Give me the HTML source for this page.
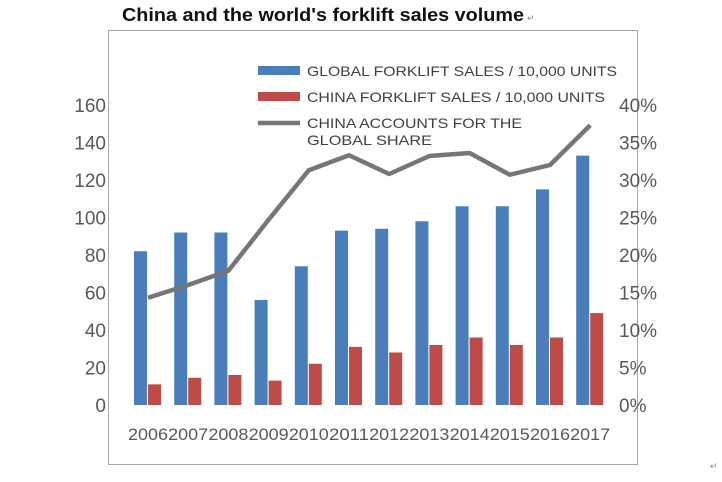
<!DOCTYPE html>
<html><head><meta charset="utf-8"><style>
body{margin:0;background:#fff;}
svg text{font-family:"Liberation Sans",Arial,sans-serif;}
</style></head><body>
<svg width="722" height="477" viewBox="0 0 722 477">
<text x="122" y="21" textLength="402" lengthAdjust="spacingAndGlyphs" font-size="18" font-weight="bold" fill="#111">China and the world's forklift sales volume</text>
<text x="527" y="21" font-size="9" fill="#888">↵</text>
<rect x="108.5" y="30.5" width="529" height="434" fill="none" stroke="#a6a6a6"/>
<text x="710" y="469" font-size="9" fill="#888">↵</text>
<g id="chart"></g>
</svg>
<script>
const categories=["2006","2007","2008","2009","2010","2011","2012","2013","2014","2015","2016","2017"];
const globalSales=[82,92,92,56,74,93,94,98,106,106,115,133];
const chinaSales=[11,14.5,16,13,22,31,28,32,36,32,36,49];
const chinaShare=[14.3,16,17.9,24.7,31.3,33.3,30.8,33.2,33.6,30.7,32,37.3];
const leftTicks=[0,20,40,60,80,100,120,140,160];
const rightTicks=[0,5,10,15,20,25,30,35,40];
const NS="http://www.w3.org/2000/svg";
const g=document.getElementById('chart');
const y0=405,yTop=105;
const yL=v=>y0-(v/160)*(y0-yTop);
const yR=v=>y0-(v/40)*(y0-yTop);
const xC=i=>148+i*40.2;
function mk(t,a,txt){const e=document.createElementNS(NS,t);for(const k in a)e.setAttribute(k,a[k]);if(txt!==undefined)e.textContent=txt;g.appendChild(e);return e;}
leftTicks.forEach(v=>{const e=mk('text',{x:106,y:yL(v)+7,'text-anchor':'end','font-size':19,fill:'#595959'},v);

});
rightTicks.forEach(v=>{const e=mk('text',{x:619,y:yR(v)+7,'font-size':19,fill:'#595959'},v+'%');

});
categories.forEach((c,i)=>{
const b=mk('rect',{x:xC(i)-14,y:yL(globalSales[i]),width:13,height:y0-yL(globalSales[i]),fill:'#4a7ebb'});


const r=mk('rect',{x:xC(i),y:yL(chinaSales[i]),width:13,height:y0-yL(chinaSales[i]),fill:'#be4b48'});


const t=mk('text',{x:xC(i)-20,y:440,'font-size':17,textLength:40,lengthAdjust:'spacingAndGlyphs',fill:'#595959'},c);


});
const pts=chinaShare.map((v,i)=>xC(i)+','+yR(v)).join(' ');
const ln=mk('polyline',{points:pts,fill:'none',stroke:'#767676','stroke-width':4.5,'stroke-linejoin':'round'});


const l1=mk('rect',{x:258,y:66,width:42,height:9,fill:'#4a7ebb'});


const t1=mk('text',{x:307,y:76,'font-size':14,textLength:310,lengthAdjust:'spacingAndGlyphs',fill:'#404040'},'GLOBAL FORKLIFT SALES / 10,000 UNITS');


const l2=mk('rect',{x:258,y:92,width:42,height:9,fill:'#be4b48'});


const t2=mk('text',{x:307,y:102,'font-size':14,textLength:298,lengthAdjust:'spacingAndGlyphs',fill:'#404040'},'CHINA FORKLIFT SALES / 10,000 UNITS');


const l3=mk('line',{x1:258,y1:123,x2:300,y2:123,stroke:'#767676','stroke-width':4.5});


const t3=mk('text',{x:307,y:128,'font-size':14,textLength:215,lengthAdjust:'spacingAndGlyphs',fill:'#404040'},'CHINA ACCOUNTS FOR THE');


const t4=mk('text',{x:307,y:145,'font-size':14,textLength:125,lengthAdjust:'spacingAndGlyphs',fill:'#404040'},'GLOBAL SHARE');


</script>
</body></html>
